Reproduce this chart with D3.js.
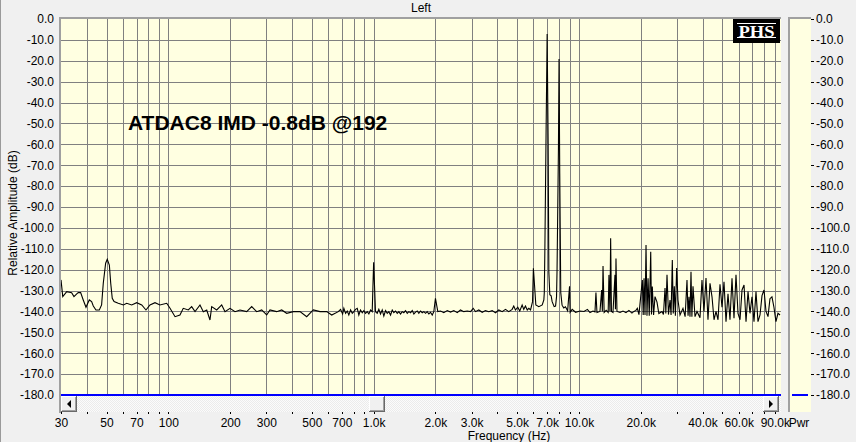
<!DOCTYPE html>
<html><head><meta charset="utf-8">
<script src="https://cdn.jsdelivr.net/npm/d3@7"></script>
<style>
html,body{margin:0;padding:0;background:#f0f0f0;overflow:hidden;}
svg{display:block;font-family:"Liberation Sans",Arial,sans-serif;}
</style></head><body>
<svg id="c" width="856" height="442"></svg>
<script>
// ---------- data ----------
const chartTitle = "Left";
const annotation = "ATDAC8 IMD -0.8dB @192";
const xTitle = "Frequency (Hz)";
const yTitle = "Relative Amplitude (dB)";
const legendLabel = "Pwr";
const logoText = "PHS";

const yTicks = [0,-10,-20,-30,-40,-50,-60,-70,-80,-90,-100,-110,-120,-130,-140,-150,-160,-170,-180];
const xGridTicks = [30,40,50,60,70,80,90,100,200,300,400,500,600,700,800,900,
  1000,2000,3000,4000,5000,6000,7000,8000,9000,10000,20000,30000,40000,50000,60000,70000,80000,90000];
const xLabelTicks = [30,50,70,100,200,300,500,700,1000,2000,3000,5000,7000,10000,20000,40000,60000,90000];

// spectrum trace, [frequency Hz, level dB]
const lowBand = [[30,-124.9],[30.6,-132.9],[32.0,-130.5],[33.8,-131.0],[34.7,-132.9],[35.8,-131.6],[36.4,-131.0],[37.4,-131.0],
 [38.5,-134.5],[39.7,-138.0],[41.2,-134.5],[42.3,-135.3],[43.1,-137.4],[44.4,-139.3],[46.1,-139.3],[47.3,-136.9],[48.2,-126.5],
 [49.5,-116.9],[50.4,-115.0],[51.6,-117.8],[52.4,-126.5],[53.3,-133.7],[54.4,-135.3],[57.0,-136.1],[60.4,-136.9],[62.7,-136.1],
 [66.3,-136.9],[70.1,-135.8],[74.2,-136.9],[77.8,-139.3],[81.4,-136.9],[86.1,-135.8],[91.0,-136.9],[98.2,-136.1],[101.9,-138.5],
 [107.8,-142.5],[113.9,-141.7],[118.2,-138.5],[125.1,-139.3],[129.9,-137.7],[134.9,-140.1],[142.6,-136.9],[148.0,-140.1],
 [153.8,-139.3],[159.5,-144.1],[162.6,-137.7],[172.0,-139.3],[181.9,-136.9],[188.8,-140.1],[199.7,-138.5],[211.2,-140.1],
 [223.4,-139.3],[240.8,-140.1],[254.7,-137.7],[269.4,-140.1],[284.9,-139.3],[301.3,-141.7],[312.7,-139.3],[337.1,-140.1],
 [356.5,-139.3],[377.1,-140.9],[406.2,-140.1],[437.8,-140.1],[472.0,-142.5],[508.2,-139.3],[547.9,-140.1],[590.8,-140.1],
 [624.8,-141.7],[672.7,-140.1]];
const midBand = [[690,-139.0],[706,-141.2],[716,-138.5],[730,-140.9],[744,-139.8],[757,-141.7],[772,-139.3],[787,-140.9],
 [801,-140.1],[816,-139.0],[832,-138.5],[847,-141.7],[863,-139.3],[880,-140.6],[896,-139.6],[913,-140.9],[931,-140.1],
 [948,-141.2],[966,-139.3],[984,-140.1],[1000,-116.5],[1021,-140.1],[1041,-140.9],[1060,-139.0],[1080,-141.2],[1101,-139.3],
 [1121,-142.2],[1143,-139.6],[1165,-140.9],[1186,-140.1],[1209,-141.7],[1232,-139.3],[1254,-140.6],[1278,-139.8],[1303,-140.9],
 [1327,-140.1],[1352,-141.2],[1378,-140.1],[1403,-140.6],[1430,-139.6],[1458,-140.9],[1484,-140.1],[1513,-140.6],[1542,-139.6],
 [1570,-141.2],[1600,-140.3],[1631,-139.8],[1660,-140.9],[1692,-139.8],[1725,-140.6],[1756,-140.1],[1790,-140.9],[1824,-140.1],
 [1857,-141.2],[1893,-140.4],[1929,-141.7],[1964,-140.1],[2000,-133.7],[2054,-140.1],[2118,-139.8],[2197,-140.6],[2283,-139.6],
 [2369,-140.3],[2458,-139.6],[2553,-140.6],[2649,-139.3],[2749,-140.1],[2856,-139.8],[2964,-140.1],[3055,-138.5],[3134,-140.1],
 [3252,-139.3],[3379,-140.4],[3506,-139.6],[3638,-140.1],[3779,-139.6],[3922,-140.6],[4069,-139.3],[4227,-140.1],[4387,-139.0],
 [4552,-140.1],[4728,-139.0],[4814,-137.4],[4907,-139.3],[5035,-138.0],[5149,-139.8],[5289,-136.9],[5385,-139.0],[5489,-137.4],
 [5600,-139.3],[5701,-138.5],[5811,-139.3],[5943,-135.3],[6000,-119.3],[6167,-136.9],[6378,-137.7],[6625,-136.9],[6746,-134.5]];
const toneBand = [[6780,-131],[6822,-111.4],[6922,-51.5],[7000,-7.2],[7079,-59.5],[7134,-121],[7214,-132],[7321,-132.5],
 [7404,-135.3],[7572,-137.7],[7693,-137.4],[7779,-132.9],[7823,-120],[7946,-62],[8000,-19.1],[8063,-73.9],[8155,-131],
 [8275,-137],[8433,-138.3],[8595,-137.8],[8809,-139.7],[9000,-128],[9060,-140.4],[9270,-139],[9630,-140.4],[10120,-139.8]];
const highBand = [[10580,-140],[11000,-139],[11320,-140.5],[11700,-139.8],[11970,-140.2],[12100,-131],[12240,-140.5],
 [12660,-140],[12900,-129.7],[13000,-140],[13100,-118.2],[13270,-140.5],[13570,-139.5],[13880,-140.5],[14000,-122.5],
 [14160,-140],[14270,-105],[14400,-140],[14650,-140.5],[14980,-122.5],[15060,-139],[15150,-114.6],[15320,-140],[15850,-140.5],
 [16390,-139.8],[16950,-140.6],[17520,-139.5],[18120,-140.8],[18530,-140],[18950,-139.5],[19250,-138.5],[19600,-141.5],
 [20360,-125],[20560,-141.7],[20750,-124.1],[20980,-141.7],[21220,-108.2],[21450,-142],[21710,-124.1],[22000,-142],
 [22370,-111.4],[22560,-141.5],[22770,-128.1],[23100,-141.7],[23470,-132.9],[24000,-135.5],[24500,-141],[25380,-140],
 [25800,-141.5],[26260,-128.8],[26500,-141],[26850,-122.5],[27300,-141.5],[27770,-134.5],[28100,-141.7],[28500,-115.4],
 [28800,-141],[29140,-128],[29500,-142],[29920,-119.2],[30360,-134.5],[31060,-141.7],[32120,-138.5],[32900,-142.5],
 [33600,-125],[34000,-142],[34360,-133],[34750,-142.5],[35140,-121],[35500,-142.5],[35940,-128],[36760,-142.5],[37590,-140],
 [38870,-143],[39750,-125],[40650,-140],[41580,-124],[42520,-144],[43490,-126.5],[44480,-133],[45490,-144],[46520,-140],
 [47580,-144],[48650,-127],[49750,-138],[50880,-125.8],[52040,-144.9],[53220,-131.6],[54420,-144],[55660,-124.1],
 [56920,-143.3],[58210,-122.5],[59540,-140.9],[60900,-144],[62280,-129.7],[63700,-127.3],[65140,-144.9],[66620,-130.5],
 [68100,-140.9],[69650,-133],[71230,-144.9],[72850,-130.5],[74500,-144.9],[76200,-141.7],[77930,-132.4],[79700,-129.7],
 [81510,-140],[83360,-142.5],[85200,-133.9],[87130,-133],[89100,-138],[91130,-144.9],[93200,-140.9],[95400,-141.7]];
const pwrBand = [[30,-180],[96000,-180]];

// ---------- chart ----------
const svg = d3.select("#c");
const FONT = "'Liberation Sans', Arial, sans-serif";
const x = d3.scaleLog().domain([30, 96000]).range([61, 780.6]);
const y = d3.scaleLinear().domain([-180, 0]).range([395, 19]);
const PL = 61, PR = 781, PT = 19, PB = 395;

const defs = svg.append("defs");
const pat = defs.append("pattern").attr("id","dots").attr("width",2).attr("height",2).attr("patternUnits","userSpaceOnUse");
pat.append("rect").attr("width",2).attr("height",2).attr("fill","#fbfbfb");
pat.append("rect").attr("width",1).attr("height",1).attr("fill","#ebebeb");
pat.append("rect").attr("x",1).attr("y",1).attr("width",1).attr("height",1).attr("fill","#ebebeb");
defs.append("clipPath").attr("id","clip").append("rect").attr("x",PL).attr("y",PT).attr("width",PR-PL).attr("height",PB-PT+1);

svg.append("rect").attr("width",856).attr("height",442).attr("fill","#f0f0f0");
svg.append("rect").attr("x",0).attr("y",0).attr("width",1).attr("height",442).attr("fill","#9a9a9a");

// plot background
svg.append("rect").attr("x",PL).attr("y",PT).attr("width",PR-PL).attr("height",PB-PT).attr("fill","#ffffe1");
// scrollbar track
svg.append("rect").attr("x",PL).attr("y",PB+1).attr("width",PR-PL).attr("height",16).attr("fill","url(#dots)");

// grid via axes
svg.append("g").attr("transform",`translate(0,${PT})`)
  .call(d3.axisTop(x).tickValues(xGridTicks.slice(1)).tickSize(-(PB-PT)).tickFormat(""))
  .call(g => g.select(".domain").remove())
  .call(g => g.selectAll("line").attr("stroke","#808080").attr("shape-rendering","crispEdges"));
svg.append("g").attr("transform",`translate(${PL},0)`)
  .call(d3.axisLeft(y).tickValues(yTicks.slice(1,-1)).tickSize(-(PR-PL)).tickFormat(""))
  .call(g => g.select(".domain").remove())
  .call(g => g.selectAll("line").attr("stroke","#808080").attr("shape-rendering","crispEdges"));

// frame borders
svg.append("rect").attr("x",59).attr("y",17).attr("width",PR-59).attr("height",2).attr("fill","#a0a0a0");
svg.append("rect").attr("x",59).attr("y",17).attr("width",2).attr("height",396).attr("fill","#a0a0a0");

// traces
const line = d3.line().x(d => x(d[0])).y(d => y(d[1]));
const trace = lowBand.concat(midBand, toneBand, highBand);
const plotG = svg.append("g").attr("clip-path","url(#clip)");
plotG.append("path").datum(pwrBand).attr("d",line).attr("fill","none").attr("stroke","#0000ff").attr("stroke-width",1.2).attr("shape-rendering","crispEdges");
plotG.append("path").datum(trace).attr("d",line).attr("fill","none").attr("stroke","#000").attr("stroke-width",1.1).attr("stroke-linejoin","miter");

// scroll buttons
function button(x0, dir) {
  const g = svg.append("g");
  g.append("rect").attr("x",x0).attr("y",396).attr("width",16).attr("height",16).attr("fill","#696969");
  g.append("rect").attr("x",x0).attr("y",396).attr("width",15).attr("height",15).attr("fill","#ffffff");
  g.append("rect").attr("x",x0+1).attr("y",397).attr("width",14).attr("height",14).attr("fill","#a0a0a0");
  g.append("rect").attr("x",x0+1).attr("y",397).attr("width",13).attr("height",13).attr("fill","#f0f0f0");
  if (dir) {
    const cx = x0 + 8, cy = 404;
    const pts = dir < 0 ? [[cx-2,cy],[cx+2,cy-4],[cx+2,cy+4]] : [[cx+2,cy],[cx-2,cy-4],[cx-2,cy+4]];
    g.append("path").attr("d","M"+pts.map(p=>p.join(",")).join("L")+"Z").attr("fill","#000");
  }
}
button(61,-1);
button(369,0);
button(763,1);

// bottom axis (ticks + labels)
const fmtX = f => f >= 1000 ? (f/1000).toFixed(1)+"k" : String(f);
svg.append("g").attr("transform","translate(0,412)")
  .call(d3.axisBottom(x).tickValues(xGridTicks).tickSize(2).tickPadding(4)
    .tickFormat(f => xLabelTicks.includes(f) ? fmtX(f) : ""))
  .call(g => g.select(".domain").remove())
  .call(g => g.selectAll("line").attr("stroke","#000").attr("shape-rendering","crispEdges"))
  .call(g => g.selectAll("text").attr("fill","#000").attr("font-size",12).attr("font-family",FONT));

// left axis labels
const fmtY = v => v.toFixed(1);
svg.append("g").attr("transform",`translate(${PL},0)`)
  .call(d3.axisLeft(y).tickValues(yTicks).tickSize(0).tickPadding(7).tickFormat(fmtY))
  .call(g => g.select(".domain").remove())
  .call(g => g.selectAll("text").attr("fill","#000").attr("font-size",12).attr("font-family",FONT));

// right legend panel
svg.append("rect").attr("x",788).attr("y",17).attr("width",23).attr("height",2).attr("fill","#a0a0a0");
svg.append("rect").attr("x",788).attr("y",17).attr("width",2).attr("height",395).attr("fill","#a0a0a0");
svg.append("rect").attr("x",790).attr("y",19).attr("width",21).attr("height",393).attr("fill","#ffffe1");
svg.append("g").attr("transform","translate(811,0)")
  .call(d3.axisRight(y).tickValues(yTicks).tickSize(3).tickPadding(2).tickFormat(fmtY))
  .call(g => g.select(".domain").remove())
  .call(g => g.selectAll("line").attr("stroke","#000").attr("shape-rendering","crispEdges"))
  .call(g => g.selectAll("text").attr("fill","#000").attr("font-size",12).attr("font-family",FONT));
svg.append("line").attr("x1",792).attr("x2",808).attr("y1",y(-180)).attr("y2",y(-180))
  .attr("stroke","#0000ff").attr("stroke-width",1.2).attr("shape-rendering","crispEdges");

// texts
svg.append("text").attr("x",421).attr("y",12).attr("text-anchor","middle").attr("font-size",12).attr("font-family",FONT).text(chartTitle);
svg.append("text").attr("x",509).attr("y",439.5).attr("text-anchor","middle").attr("font-size",12).attr("font-family",FONT).text(xTitle);
svg.append("text").attr("x",799).attr("y",426.5).attr("text-anchor","middle").attr("font-size",12).attr("font-family",FONT).text(legendLabel);
svg.append("text").attr("transform","translate(17,213) rotate(-90)").attr("text-anchor","middle").attr("font-size",12).attr("font-family",FONT).text(yTitle);
svg.append("text").attr("x",128).attr("y",130).attr("font-size",21).attr("font-weight","bold").attr("font-family",FONT).text(annotation);

// PHS logo
const logo = svg.append("g");
logo.append("rect").attr("x",733).attr("y",19).attr("width",47).attr("height",24).attr("fill","#000");
logo.append("rect").attr("x",737).attr("y",23).attr("width",39).attr("height",1).attr("fill","#fff");
logo.append("rect").attr("x",737).attr("y",37).attr("width",39).attr("height",1).attr("fill","#fff");
logo.append("text").attr("x",756.5).attr("y",36.5).attr("text-anchor","middle").attr("fill","#fff")
  .attr("font-family","'Liberation Serif','Times New Roman',serif").attr("font-weight","bold").attr("font-size",17)
  .attr("textLength",36).attr("lengthAdjust","spacingAndGlyphs").text(logoText);
</script>
</body></html>
